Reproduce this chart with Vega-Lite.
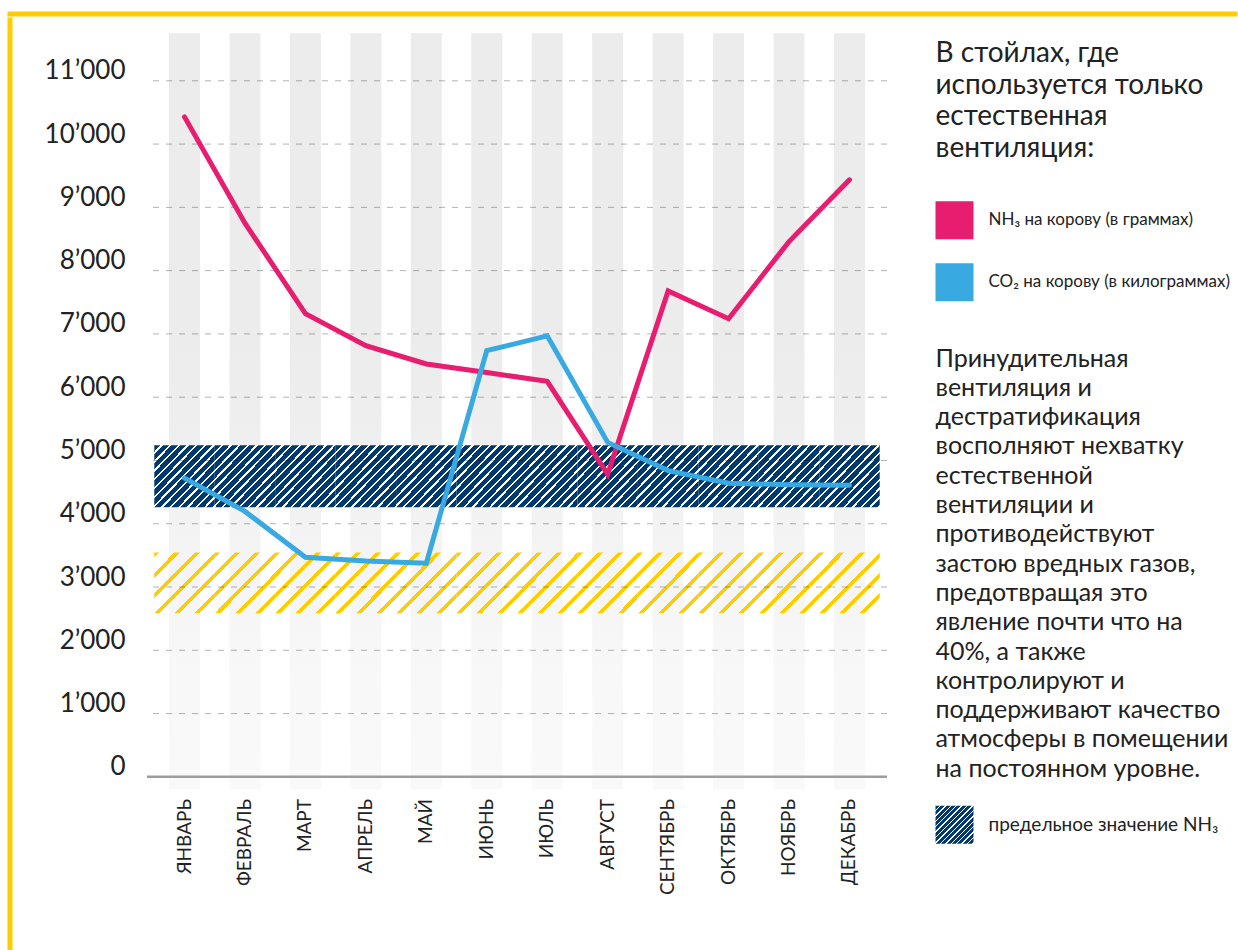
{
 "$schema": "https://vega.github.io/schema/vega-lite/v6.json",
 "background": "white",
 "padding": {"left": 7, "top": 11, "right": 0, "bottom": 0},
 "datasets": {
  "monthly": [
   {"month": "ЯНВАРЬ", "series": "NH₃ на корову (в граммах)", "value": 10430},
   {"month": "ФЕВРАЛЬ", "series": "NH₃ на корову (в граммах)", "value": 8750},
   {"month": "МАРТ", "series": "NH₃ на корову (в граммах)", "value": 7320},
   {"month": "АПРЕЛЬ", "series": "NH₃ на корову (в граммах)", "value": 6815},
   {"month": "МАЙ", "series": "NH₃ на корову (в граммах)", "value": 6525},
   {"month": "ИЮНЬ", "series": "NH₃ на корову (в граммах)", "value": 6390},
   {"month": "ИЮЛЬ", "series": "NH₃ на корову (в граммах)", "value": 6250},
   {"month": "АВГУСТ", "series": "NH₃ на корову (в граммах)", "value": 4780},
   {"month": "СЕНТЯБРЬ", "series": "NH₃ на корову (в граммах)", "value": 7680},
   {"month": "ОКТЯБРЬ", "series": "NH₃ на корову (в граммах)", "value": 7240},
   {"month": "НОЯБРЬ", "series": "NH₃ на корову (в граммах)", "value": 8460},
   {"month": "ДЕКАБРЬ", "series": "NH₃ на корову (в граммах)", "value": 9435},
   {"month": "ЯНВАРЬ", "series": "CO₂ на корову (в килограммах)", "value": 4720},
   {"month": "ФЕВРАЛЬ", "series": "CO₂ на корову (в килограммах)", "value": 4195},
   {"month": "МАРТ", "series": "CO₂ на корову (в килограммах)", "value": 3470},
   {"month": "АПРЕЛЬ", "series": "CO₂ на корову (в килограммах)", "value": 3410},
   {"month": "МАЙ", "series": "CO₂ на корову (в килограммах)", "value": 3375},
   {"month": "ИЮНЬ", "series": "CO₂ на корову (в килограммах)", "value": 6735},
   {"month": "ИЮЛЬ", "series": "CO₂ на корову (в килограммах)", "value": 6970},
   {"month": "АВГУСТ", "series": "CO₂ на корову (в килограммах)", "value": 5285},
   {"month": "СЕНТЯБРЬ", "series": "CO₂ на корову (в килограммах)", "value": 4840},
   {"month": "ОКТЯБРЬ", "series": "CO₂ на корову (в килограммах)", "value": 4640},
   {"month": "НОЯБРЬ", "series": "CO₂ на корову (в килограммах)", "value": 4615},
   {"month": "ДЕКАБРЬ", "series": "CO₂ на корову (в килограммах)", "value": 4610}
  ],
  "limits": [
   {"series": "NH₃ на корову (в граммах)", "limit": "предельное значение NH₃", "low": 4260, "high": 5240},
   {"series": "CO₂ на корову (в килограммах)", "limit": "предельное значение CO₂ на корову", "low": 2585, "high": 3545}
  ]
 },
 "config": {
  "font": "Lato",
  "view": {"stroke": null},
  "axis": {"labelFont": "Lato"},
  "legend": {"labelFont": "Lato", "titleFont": "Lato"},
  "concat": {"spacing": 0}
 },
 "spacing": 0,
 "vconcat": [
  {
   "width": 1225, "height": 0.001,
   "view": {"stroke": "#ffcc00", "strokeWidth": 5},
   "data": {"values": []},
   "mark": "point"
  },
  {
   "spacing": 0,
   "hconcat": [
    {
     "width": 0.001, "height": 929,
     "view": {"stroke": "#ffcc00", "strokeWidth": 5},
     "data": {"values": []},
     "mark": "point"
    },
    {
     "width": 740, "height": 769.5,
     "view": {"stroke": null},
     "data": {"name": "monthly"},
     "layer": [
      {
       "transform": [{"filter": {"field": "series", "equal": "NH₃ на корову (в граммах)"}}],
       "mark": {"type": "bar", "stroke": null, "fill": {"gradient": "linear", "x1": 0, "y1": 0, "x2": 0, "y2": 1, "stops": [
        {"offset": 0, "color": "#ececec"}, {"offset": 0.4, "color": "#ececec"}, {"offset": 0.55, "color": "#efefef"},
        {"offset": 0.65, "color": "#f3f3f3"}, {"offset": 0.85, "color": "#f8f8f8"}, {"offset": 1, "color": "#f9f9f9"}]}},
       "encoding": {
        "x": {"field": "month", "type": "nominal", "title": null,
         "scale": {"type": "band", "domain": ["ЯНВАРЬ","ФЕВРАЛЬ","МАРТ","АПРЕЛЬ","МАЙ","ИЮНЬ","ИЮЛЬ","АВГУСТ","СЕНТЯБРЬ","ОКТЯБРЬ","НОЯБРЬ","ДЕКАБРЬ"], "paddingInner": 0.487, "paddingOuter": 0.364},
         "axis": {"domain": false, "ticks": false, "labelAngle": -90, "labelAlign": "right", "labelBaseline": "middle", "labelFontSize": 19, "labelColor": "#222", "labelPadding": 9, "labelOverlap": false, "title": null}},
        "y": {"datum": 11750, "type": "quantitative", "title": null},
        "y2": {"datum": -200}
       }
      },
      {
       "transform": [
        {"lookup": "series", "from": {"data": {"name": "limits"}, "key": "series", "fields": ["limit", "low", "high"]}},
        {"filter": {"field": "series", "equal": "NH₃ на корову (в граммах)"}}
       ],
       "mark": {"type": "bar", "width": {"band": 1.9493}, "stroke": null, "fill": {"gradient": "linear", "x1": 0, "y1": 0, "x2": 1, "y2": 1, "stops": [
        {"offset": 0, "color": "#00396f"}, {"offset": 0.0521, "color": "#00396f"}, {"offset": 0.0521, "color": "#fff"}, {"offset": 0.0714, "color": "#fff"},
        {"offset": 0.0714, "color": "#00396f"}, {"offset": 0.1236, "color": "#00396f"}, {"offset": 0.1236, "color": "#fff"}, {"offset": 0.1429, "color": "#fff"},
        {"offset": 0.1429, "color": "#00396f"}, {"offset": 0.195, "color": "#00396f"}, {"offset": 0.195, "color": "#fff"}, {"offset": 0.2143, "color": "#fff"},
        {"offset": 0.2143, "color": "#00396f"}, {"offset": 0.2664, "color": "#00396f"}, {"offset": 0.2664, "color": "#fff"}, {"offset": 0.2857, "color": "#fff"},
        {"offset": 0.2857, "color": "#00396f"}, {"offset": 0.3379, "color": "#00396f"}, {"offset": 0.3379, "color": "#fff"}, {"offset": 0.3571, "color": "#fff"},
        {"offset": 0.3571, "color": "#00396f"}, {"offset": 0.4093, "color": "#00396f"}, {"offset": 0.4093, "color": "#fff"}, {"offset": 0.4286, "color": "#fff"},
        {"offset": 0.4286, "color": "#00396f"}, {"offset": 0.4807, "color": "#00396f"}, {"offset": 0.4807, "color": "#fff"}, {"offset": 0.5, "color": "#fff"},
        {"offset": 0.5, "color": "#00396f"}, {"offset": 0.5521, "color": "#00396f"}, {"offset": 0.5521, "color": "#fff"}, {"offset": 0.5714, "color": "#fff"},
        {"offset": 0.5714, "color": "#00396f"}, {"offset": 0.6236, "color": "#00396f"}, {"offset": 0.6236, "color": "#fff"}, {"offset": 0.6429, "color": "#fff"},
        {"offset": 0.6429, "color": "#00396f"}, {"offset": 0.695, "color": "#00396f"}, {"offset": 0.695, "color": "#fff"}, {"offset": 0.7143, "color": "#fff"},
        {"offset": 0.7143, "color": "#00396f"}, {"offset": 0.7664, "color": "#00396f"}, {"offset": 0.7664, "color": "#fff"}, {"offset": 0.7857, "color": "#fff"},
        {"offset": 0.7857, "color": "#00396f"}, {"offset": 0.8379, "color": "#00396f"}, {"offset": 0.8379, "color": "#fff"}, {"offset": 0.8571, "color": "#fff"},
        {"offset": 0.8571, "color": "#00396f"}, {"offset": 0.9093, "color": "#00396f"}, {"offset": 0.9093, "color": "#fff"}, {"offset": 0.9286, "color": "#fff"},
        {"offset": 0.9286, "color": "#00396f"}, {"offset": 0.9807, "color": "#00396f"}, {"offset": 0.9807, "color": "#fff"}, {"offset": 1, "color": "#fff"}]}},
       "encoding": {
        "x": {"field": "month", "type": "nominal", "title": null},
        "y": {"field": "high", "type": "quantitative", "title": null},
        "y2": {"field": "low"},
        "opacity": {"field": "limit", "type": "nominal",
         "scale": {"domain": ["предельное значение NH₃"], "range": [1, 1]},
         "legend": {
          "orient": "none", "legendX": 925.5, "legendY": 332.5, "padding": 0,
          "title": ["Принудительная", "вентиляция и", "дестратификация", "восполняют нехватку", "естественной", "вентиляции и", "противодействуют", "застою вредных газов,", "предотвращая это", "явление почти что на", "40%, а также", "контролируют и", "поддерживают качество", "атмосферы в помещении", "на постоянном уровне."],
          "titleFontSize": 25, "titleFontWeight": "normal", "titleColor": "#222", "titleLineHeight": 29.3, "titlePadding": 24, "titleLimit": 400, "titleAnchor": "start",
          "symbolType": "square", "symbolSize": 1444, "symbolStrokeWidth": 0,
          "labelFontSize": 19, "labelColor": "#222", "labelOffset": 15, "labelLimit": 400
         }
        }
       }
      },
      {
       "transform": [
        {"lookup": "series", "from": {"data": {"name": "limits"}, "key": "series", "fields": ["limit", "low", "high"]}, "as": ["limitCO2", "lowCO2", "highCO2"]},
        {"filter": {"field": "series", "equal": "CO₂ на корову (в килограммах)"}}
       ],
       "mark": {"type": "bar", "width": {"band": 1.9493}, "stroke": null, "fill": {"gradient": "linear", "x1": 0, "y1": 0, "x2": 1, "y2": 1, "stops": [
        {"offset": 0, "color": "#ffcc00"}, {"offset": 0.0417, "color": "#ffcc00"}, {"offset": 0.0417, "color": "rgba(255,255,255,0)"}, {"offset": 0.1667, "color": "rgba(255,255,255,0)"},
        {"offset": 0.1667, "color": "#ffcc00"}, {"offset": 0.2083, "color": "#ffcc00"}, {"offset": 0.2083, "color": "rgba(255,255,255,0)"}, {"offset": 0.3333, "color": "rgba(255,255,255,0)"},
        {"offset": 0.3333, "color": "#ffcc00"}, {"offset": 0.375, "color": "#ffcc00"}, {"offset": 0.375, "color": "rgba(255,255,255,0)"}, {"offset": 0.5, "color": "rgba(255,255,255,0)"},
        {"offset": 0.5, "color": "#ffcc00"}, {"offset": 0.5417, "color": "#ffcc00"}, {"offset": 0.5417, "color": "rgba(255,255,255,0)"}, {"offset": 0.6667, "color": "rgba(255,255,255,0)"},
        {"offset": 0.6667, "color": "#ffcc00"}, {"offset": 0.7083, "color": "#ffcc00"}, {"offset": 0.7083, "color": "rgba(255,255,255,0)"}, {"offset": 0.8333, "color": "rgba(255,255,255,0)"},
        {"offset": 0.8333, "color": "#ffcc00"}, {"offset": 0.875, "color": "#ffcc00"}, {"offset": 0.875, "color": "rgba(255,255,255,0)"}, {"offset": 1, "color": "rgba(255,255,255,0)"}]}},
       "encoding": {
        "x": {"field": "month", "type": "nominal", "title": null},
        "y": {"field": "highCO2", "type": "quantitative", "title": null},
        "y2": {"field": "lowCO2"},
        "fillOpacity": {"field": "limitCO2", "type": "nominal",
         "scale": {"domain": ["предельное значение CO₂ на корову"], "range": [1, 1]},
         "legend": {
          "orient": "none", "legendX": 925.5, "legendY": 854.3, "padding": 0, "title": null,
          "symbolType": "square", "symbolSize": 1444, "symbolStrokeWidth": 0,
          "labelFontSize": 19, "labelColor": "#222", "labelOffset": 15, "labelLimit": 400,
          "labelExpr": "['предельное значение', 'CO₂ на корову']",
          "encode": {"labels": {"update": {"lineHeight": {"value": 20}}}}
         }
        }
       }
      },
      {
       "data": {"values": [{"grid": 1000}, {"grid": 2000}, {"grid": 3000}, {"grid": 4000}, {"grid": 5000}, {"grid": 6000}, {"grid": 7000}, {"grid": 8000}, {"grid": 9000}, {"grid": 10000}, {"grid": 11000}]},
       "mark": {"type": "rule", "stroke": "#000", "strokeOpacity": 0.3, "strokeWidth": 1, "strokeDash": [6, 7]},
       "encoding": {
        "y": {"field": "grid", "type": "quantitative", "title": null,
         "scale": {"domain": [-200, 11961], "nice": false, "zero": false},
         "axis": {"values": [0, 1000, 2000, 3000, 4000, 5000, 6000, 7000, 8000, 9000, 10000, 11000], "grid": false, "domain": false, "ticks": false,
          "labelFontSize": 26, "labelColor": "#222", "labelPadding": 22, "labelBaseline": "alphabetic", "labelOffset": -2,
          "labelExpr": "replace(format(datum.value, ','), ',', '’')", "minExtent": 133.5, "maxExtent": 133.5, "title": null}}
       }
      },
      {
       "data": {"values": [{"level": 0}]},
       "mark": {"type": "rule", "stroke": "#9d9d9d", "strokeWidth": 2.5},
       "encoding": {"y": {"field": "level", "type": "quantitative", "title": null}}
      },
      {
       "transform": [{"filter": {"field": "series", "equal": "NH₃ на корову (в граммах)"}}],
       "mark": {"type": "line", "strokeWidth": 5, "strokeCap": "round"},
       "encoding": {
        "x": {"field": "month", "type": "nominal", "sort": null, "bandPosition": 0.5, "title": null},
        "y": {"field": "value", "type": "quantitative", "title": null},
        "color": {"field": "series", "type": "nominal",
         "scale": {"domain": ["NH₃ на корову (в граммах)", "CO₂ на корову (в килограммах)"], "range": ["#e71d6f", "#38a9e1"]},
         "legend": {
          "orient": "none", "legendX": 925.5, "legendY": 26.1, "padding": 0,
          "title": ["В стойлах, где", "используется только", "естественная", "вентиляция:"],
          "titleFontSize": 28, "titleFontWeight": "normal", "titleColor": "#222", "titleLineHeight": 31.7, "titlePadding": 38, "titleLimit": 400, "titleAnchor": "start",
          "symbolType": "square", "symbolSize": 1444, "symbolStrokeWidth": 0,
          "labelFontSize": 17, "labelColor": "#222", "labelOffset": 15, "labelLimit": 400, "rowPadding": 24,
          "encode": {
           "symbols": {"update": {
            "opacity": {"value": 1},
            "fill": {"scale": "color", "field": "value"}
           }}
          }
         }
        }
       }
      },
      {
       "transform": [{"filter": {"field": "series", "equal": "CO₂ на корову (в килограммах)"}}],
       "mark": {"type": "line", "strokeWidth": 5, "strokeCap": "round"},
       "encoding": {
        "x": {"field": "month", "type": "nominal", "sort": null, "bandPosition": 0.5, "title": null},
        "y": {"field": "value", "type": "quantitative", "title": null},
        "color": {"field": "series", "type": "nominal"}
       }
      }
     ]
    }
   ]
  }
 ]
}
